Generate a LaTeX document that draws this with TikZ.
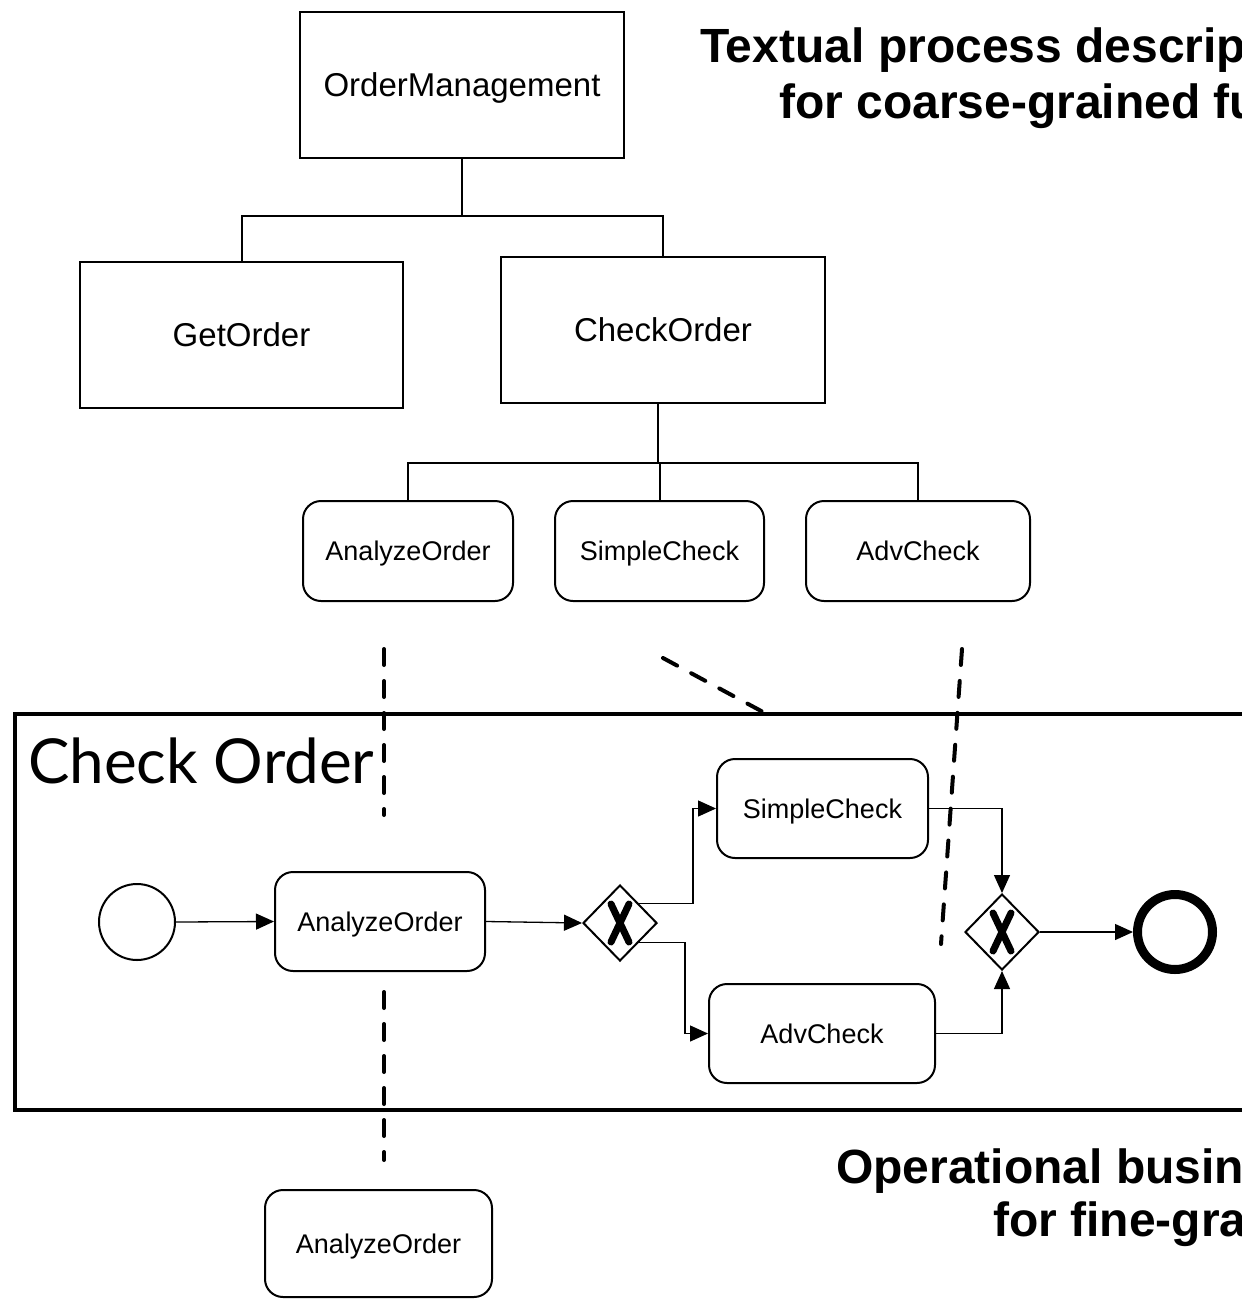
\documentclass[tikz,border=0pt]{standalone}
\usepackage{fontspec}
\setmainfont{Liberation Sans}
\newfontfamily\gillfont{Lato}
\usetikzlibrary{arrows.meta,shapes.geometric}
\begin{document}
\begin{tikzpicture}[x=1pt,y=-1pt,
  bigbox/.style={draw,line width=2pt,inner sep=0pt,font=\fontsize{33}{36}\selectfont,text height=23.6pt,text depth=0pt},
  task/.style={draw,line width=2pt,rounded corners=18pt,inner sep=0pt,font=\fontsize{27}{30}\selectfont,text height=19.3pt,text depth=0pt},
  tree/.style={line width=2pt},
  flow/.style={line width=1.3pt,-{Triangle[length=18pt,width=16pt]}},
  gate/.style={draw,diamond,line width=2pt,inner sep=0pt,minimum width=74pt,minimum height=76pt},
  xmark/.style={line width=7pt,line cap=round},
  cut/.style={line width=4pt,line cap=round,dash pattern=on 16pt off 16pt},
  title/.style={font=\fontsize{48}{50}\selectfont\bfseries,inner sep=0pt,anchor=base west},
]
\useasboundingbox (0,0) rectangle (1242,1301);
\clip (0,0) rectangle (1242,1301);
\fill[white] (0,0) rectangle (1242,1301);

% titles
\node[title] (t1) at (700,62) {Textual process descrip};
\node[title] (t2) at (779,118) {for coarse-grained fu};
\node[title] (t3) at (836,1183) {Operational busin};
\node[title] (t4) at (993,1236) {for fine-gra};

% hierarchy
\node[bigbox,minimum width=324pt,minimum height=146pt] (om) at (462,85) {OrderManagement};
\node[bigbox,minimum width=323pt,minimum height=146pt] (go) at (241.5,335) {GetOrder};
\node[bigbox,minimum width=324pt,minimum height=146pt] (co) at (663,330) {CheckOrder};
\node[task,minimum width=210pt,minimum height=100pt] (ta) at (408,551) {AnalyzeOrder};
\node[task,minimum width=209pt,minimum height=100pt] (ts) at (659.5,551) {SimpleCheck};
\node[task,minimum width=224pt,minimum height=100pt] (tv) at (918,551) {AdvCheck};

\coordinate (j1) at (om.south |- 0,216);
\draw[tree] (om.south) -- (j1);
\draw[tree] (go.north) |- (j1) -| (co.north);
\coordinate (j2) at (658,463);
\draw[tree] (co.south -| j2) -- (j2);
\draw[tree] (ta.north) |- (j2) -| (tv.north);
\draw[tree] (ts.north) -- (ts.north |- j2);

% process pool
\draw[line width=4.5pt] (1260,714) -- (15,714) -- (15,1110) -- (1260,1110);
\node[font=\gillfont\fontsize{62}{64}\selectfont,inner sep=0pt,anchor=base west] (pt) at (28,783) {Check Order};

\node[draw,circle,line width=2pt,minimum size=76pt,inner sep=0pt] (st) at (137,922) {};
\node[task,minimum width=210pt,minimum height=99pt] (pa) at (380,921.5) {AnalyzeOrder};
\node[gate] (g1) at (620,923) {};
\node[task,minimum width=211pt,minimum height=99pt] (ps) at (822.5,808.5) {SimpleCheck};
\node[task,minimum width=226pt,minimum height=99pt] (pv) at (822,1033.5) {AdvCheck};
\node[gate] (g2) at (1002,932) {};
\node[draw,circle,line width=9pt,minimum size=75pt,inner sep=0pt] (en) at (1175,932) {};

\draw[xmark] ([shift={(-9,-19)}]g1.center) -- ([shift={(9,19)}]g1.center);
\draw[xmark] ([shift={(9,-19)}]g1.center) -- ([shift={(-9,19)}]g1.center);
\draw[xmark] ([shift={(-9,-19)}]g2.center) -- ([shift={(9,19)}]g2.center);
\draw[xmark] ([shift={(9,-19)}]g2.center) -- ([shift={(-9,19)}]g2.center);

\draw[flow] (st.east) -- (pa.west);
\draw[flow] (pa.east) -- (g1.west);
\draw[flow] (g1.north east) -- (g1.north east -| 693,0) |- (ps.west);
\draw[flow] (g1.south east) -- (g1.south east -| 685,0) |- (pv.west);
\draw[flow] (ps.east) -| (g2.north);
\draw[flow] (pv.east) -| (g2.south);
\draw[flow] (g2.east) -- (en.west);

% bottom task
\node[task,minimum width=227pt,minimum height=107pt] (ba) at (378.5,1243.5) {AnalyzeOrder};

% dashed cut lines
\draw[cut] (384,649) -- (384,815);
\draw[cut] (384,992) -- (384,1160);
\draw[cut] (663,658) -- (763,712);
\draw[cut] (962,649) -- (941,944);
\end{tikzpicture}
\end{document}
